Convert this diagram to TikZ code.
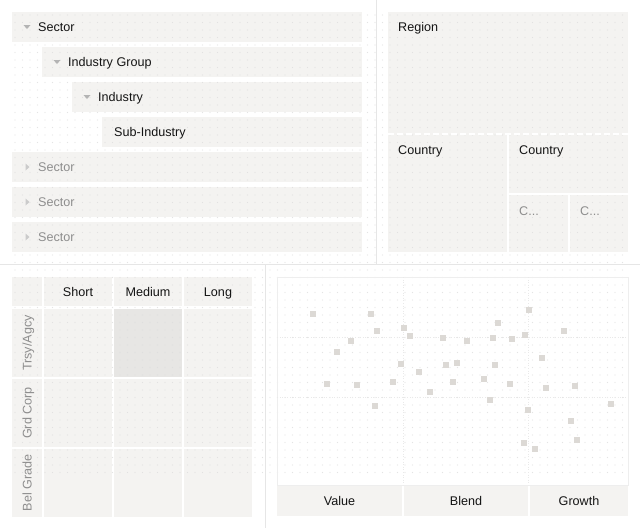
\documentclass[tikz,border=0pt]{standalone}
\usepackage{fontspec}
\setmainfont{Liberation Sans}
\definecolor{boxfill}{HTML}{F4F3F1}
\definecolor{hifill}{HTML}{E7E6E4}
\definecolor{sepline}{HTML}{E6E6E6}
\definecolor{framec}{HTML}{EEEEEE}
\definecolor{gridc}{HTML}{E9E9E9}
\definecolor{dotc}{HTML}{DCDCDC}
\definecolor{ptc}{HTML}{DCD9D5}
\definecolor{txtdark}{HTML}{141414}
\definecolor{txtgray}{HTML}{8E8E8E}
\definecolor{trig}{HTML}{B4B4B4}
\begin{document}
\begin{tikzpicture}[x=1pt,y=-1pt,
  every node/.style={font=\fontsize{12.6}{15}\selectfont},
  lbl/.style={inner sep=0pt,anchor=west,text height=9pt,text depth=0pt,text=txtdark},
  lblg/.style={lbl,text=txtgray},
  clbl/.style={inner sep=0pt,anchor=center,text height=9pt,text depth=0pt,text=txtdark},
  rlbl/.style={inner sep=0pt,anchor=center,text height=9pt,text depth=0pt,text=txtgray,rotate=90},
  rowbox/.style={fill=boxfill},
  trigdown/.style={fill=trig},
  pt/.style={fill=ptc}
]
\useasboundingbox (0,0) rectangle (640,528);
\fill[white] (0,0) rectangle (640,528);

% ---------- top-left tree rows ----------
\fill[rowbox] (12,12) rectangle (362,42);
\fill[rowbox] (42,47) rectangle (362,77);
\fill[rowbox] (72,82) rectangle (362,112);
\fill[rowbox] (102,117) rectangle (362,147);
\fill[rowbox] (12,152) rectangle (362,182);
\fill[rowbox] (12,187) rectangle (362,217);
\fill[rowbox] (12,222) rectangle (362,252);

% ---------- top-right treemap ----------
\fill[rowbox] (388,12) rectangle (628,252);

% ---------- bottom-left matrix ----------
\foreach \xa/\xb in {12/42,44/112,114/182,184/252}{
  \foreach \ya/\yb in {277/306,309/377,379/447,449/517}{
    \fill[rowbox] (\xa,\ya) rectangle (\xb,\yb);
  }
}
\fill[hifill] (114,309) rectangle (182,377);

% ---------- bottom-right scatter ----------
\fill[rowbox] (277,486) rectangle (402,516);
\fill[rowbox] (404,486) rectangle (528,516);
\fill[rowbox] (530,486) rectangle (628,516);

% ---------- dot grid ----------
\foreach \x in {15,22.5,...,627}{
  \foreach \y in {15,22.5,...,477}{
    \fill[dotc,opacity=0.75] (\x,\y) circle (0.65);
  }
}

% treemap white separators
\draw[white,line width=2pt,dash pattern=on 6pt off 3pt] (388,134) -- (628,134);
\draw[white,line width=2pt] (508,134) -- (508,252);
\draw[white,line width=2pt] (508,194) -- (628,194);
\draw[white,line width=2pt] (569,194) -- (569,252);

% scatter frame and grid
\draw[framec,line width=0.6pt] (277,277) rectangle (628,485);
\draw[gridc,line width=0.6pt,dotted] (403,277) -- (403,485);
\draw[gridc,line width=0.6pt,dotted] (528,277) -- (528,485);
\draw[gridc,line width=0.6pt,dotted] (277,337) -- (628,337);
\draw[gridc,line width=0.6pt,dotted] (277,397) -- (628,397);

% scatter points
\foreach \px/\py in {312.7/314.3,371/314.3,377/331.3,404.3/327.7,409.7/335.7,351/341.3,336.7/352.3,443/337.7,467.3/341.3,492.7/338.3,498/323.3,512/339.3,524.7/335.3,529.3/310.3,563.7/331.3,541.7/358.3,400.7/364.3,419.3/372.3,446.3/365.3,457/363.3,495/365.3,326.7/384.3,356.7/385.3,392.7/382.3,453/382.3,484/379.3,509.7/384.3,545.7/388,575/386.3,430.3/392.3,490.3/400.3,375/406.3,527.7/409.7,611/404.3,571.3/421.3,577.3/440.3,524/443.3,535/449.3}{
  \fill[pt] (\px-3,\py-3) rectangle (\px+3,\py+3);
}

% section separators
\draw[sepline,line width=1pt] (376,0) -- (376,264);
\draw[sepline,line width=1pt] (0,264) -- (640,264);
\draw[sepline,line width=1pt] (265,264) -- (265,528);

% tree triangles
\fill[trigdown] (23.5,25) -- (30.5,25) -- (27,29) -- cycle;
\fill[trigdown] (53.5,60) -- (60.5,60) -- (57,64) -- cycle;
\fill[trigdown] (83.5,95) -- (90.5,95) -- (87,99) -- cycle;
\fill[trigdown,fill=trig!70] (25.5,163.5) -- (29.5,167) -- (25.5,170.5) -- cycle;
\fill[trigdown,fill=trig!70] (25.5,198.5) -- (29.5,202) -- (25.5,205.5) -- cycle;
\fill[trigdown,fill=trig!70] (25.5,233.5) -- (29.5,237) -- (25.5,240.5) -- cycle;

% tree labels
\node[lbl] (sec1) at (38,27) {Sector};
\node[lbl] (ig) at (68,62) {Industry Group};
\node[lbl] (ind) at (98,97) {Industry};
\node[lbl] (sub) at (114,132) {Sub-Industry};
\node[lblg] (sec2) at (38,167) {Sector};
\node[lblg] (sec3) at (38,202) {Sector};
\node[lblg] (sec4) at (38,237) {Sector};

% treemap labels
\node[lbl] (reg) at (398,27) {Region};
\node[lbl] (cty1) at (398,150) {Country};
\node[lbl] (cty2) at (519,150) {Country};
\node[lblg] (c1) at (519,211) {C...};
\node[lblg] (c2) at (580,211) {C...};

% matrix labels
\node[clbl] (short) at (78,291.5) {Short};
\node[clbl] (medium) at (148,291.5) {Medium};
\node[clbl] (long) at (218,291.5) {Long};
\node[rlbl] (trsy) at (27,343) {Trsy/Agcy};
\node[rlbl] (grd) at (27,413) {Grd Corp};
\node[rlbl] (bel) at (27,483) {Bel Grade};

% scatter axis labels
\node[clbl] (val) at (339.5,501) {Value};
\node[clbl] (blend) at (466,501) {Blend};
\node[clbl] (growth) at (579,501) {Growth};
\end{tikzpicture}
\end{document}
